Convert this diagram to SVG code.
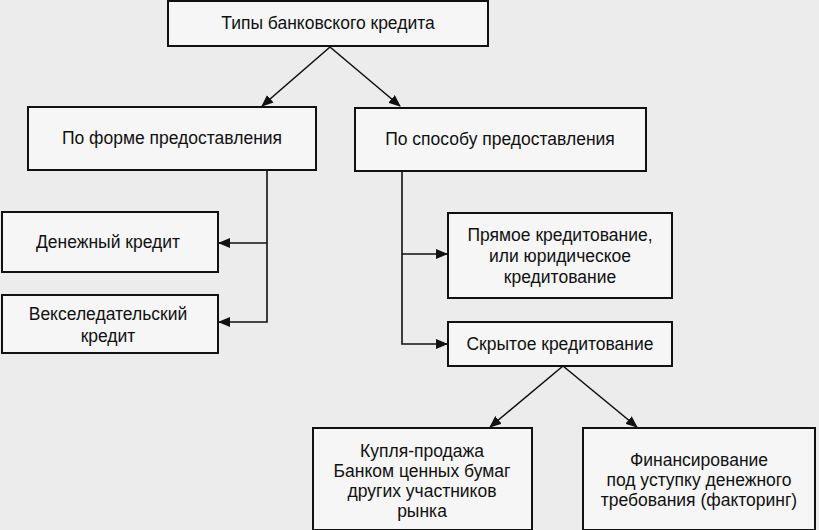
<svg xmlns="http://www.w3.org/2000/svg" width="819" height="530" viewBox="0 0 819 530">
<defs>
<marker id="ah" markerWidth="12" markerHeight="10" refX="11" refY="5" orient="auto" markerUnits="userSpaceOnUse"><path d="M0,0 L12,5 L0,10 z" fill="#111"/></marker>
<style>
.box{fill:#f6f6f6;stroke:#111;stroke-width:2}
.t{font-family:"Liberation Sans",Arial,sans-serif;font-size:17.5px;fill:#111;text-anchor:middle}
.c{fill:none;stroke:#111;stroke-width:1.6}
</style>
</defs>
<rect width="819" height="530" fill="#ececec"/>
<g id="n0"><rect class="box" x="168" y="1" width="320" height="45"/><text class="t" x="328" y="29">Типы банковского кредита</text></g>
<g id="n1"><rect class="box" x="28" y="107" width="288" height="63"/><text class="t" x="172" y="144">По форме предоставления</text></g>
<g id="n2"><rect class="box" x="355" y="108" width="291" height="63"/><text class="t" x="500" y="145">По способу предоставления</text></g>
<g id="n3"><rect class="box" x="2" y="212" width="216" height="60"/><text class="t" x="108" y="248">Денежный кредит</text></g>
<g id="n4"><rect class="box" x="2" y="295" width="216" height="58"/><text class="t" x="108" y="320">Векселедательский</text><text class="t" x="108" y="342">кредит</text></g>
<g id="n5"><rect class="box" x="448" y="213" width="224" height="85"/><text class="t" x="560" y="241">Прямое кредитование,</text><text class="t" x="560" y="262">или юридическое</text><text class="t" x="560" y="283">кредитование</text></g>
<g id="n6"><rect class="box" x="448" y="322" width="224" height="44"/><text class="t" x="560" y="350">Скрытое кредитование</text></g>
<g id="n7"><rect class="box" x="313" y="428" width="219" height="102"/><text class="t" x="422" y="457">Купля-продажа</text><text class="t" x="422" y="477">Банком ценных бумаг</text><text class="t" x="422" y="497">других участников</text><text class="t" x="422" y="517">рынка</text></g>
<g id="n8"><rect class="box" x="583" y="428" width="232" height="102"/><text class="t" x="699" y="466">Финансирование</text><text class="t" x="699" y="486">под уступку денежного</text><text class="t" x="699" y="506">требования (факторинг)</text></g>
<g id="connectors">
<path class="c" d="M330,47 L262,106" marker-end="url(#ah)"/>
<path class="c" d="M330,47 L400,106" marker-end="url(#ah)"/>
<path class="c" d="M267,170 L267,322 L219,322" marker-end="url(#ah)"/>
<path class="c" d="M267,243 L219,243" marker-end="url(#ah)"/>
<path class="c" d="M402,171 L402,344 L447,344" marker-end="url(#ah)"/>
<path class="c" d="M402,254 L447,254" marker-end="url(#ah)"/>
<path class="c" d="M563,366 L490,427" marker-end="url(#ah)"/>
<path class="c" d="M563,366 L637,427" marker-end="url(#ah)"/>
</g>
</svg>
